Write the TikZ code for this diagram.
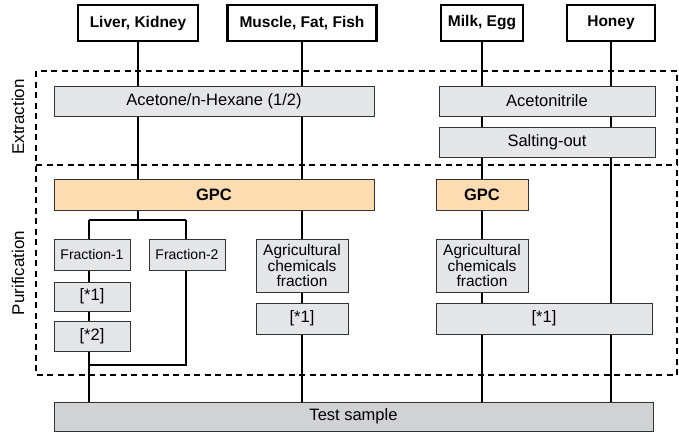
\documentclass[tikz,border=0pt]{standalone}
\usepackage{fontspec}
\setmainfont{Liberation Sans}
\definecolor{boxgray}{HTML}{E5E6E8}
\definecolor{gpcorange}{HTML}{FDDCB2}
\definecolor{testgray}{HTML}{D1D2D4}
\definecolor{edge}{HTML}{333333}
\begin{document}
\begin{tikzpicture}[x=1pt,y=-1pt,
  topbox/.style={draw=black,line width=2.2pt,fill=white,inner sep=0pt,minimum height=36pt,font=\fontsize{15.5}{17}\selectfont\bfseries},
  graybox/.style={draw=edge,line width=1pt,fill=boxgray,inner sep=0pt,font=\fontsize{16.5}{17}\selectfont},
  smallbox/.style={graybox,font=\fontsize{14}{15}\selectfont},
  agribox/.style={graybox,align=center,font=\fontsize{15.5}{15.5}\selectfont},
  gpcbox/.style={draw=edge,line width=1pt,fill=gpcorange,inner sep=0pt,minimum height=31pt,font=\fontsize{16.5}{17}\selectfont\bfseries},
  testbox/.style={draw=edge,line width=1pt,fill=testgray,inner sep=0pt,font=\fontsize{16.5}{17}\selectfont},
  conn/.style={line width=2.3pt,black},
  region/.style={line width=2pt,dash pattern=on 6pt off 4.5pt},
  sidelabel/.style={rotate=90,font=\fontsize{17}{18}\selectfont}]
\useasboundingbox (0,0) rectangle (679,431);
% regions
\coordinate (regTL) at (36,71);
\coordinate (regBR) at (677,375);
\coordinate (sepL) at (36,165);
\coordinate (sepR) at (677,165);
\draw[region] (regTL) rectangle (regBR);
\draw[region] (sepL) -- (sepR);
\node[sidelabel] (extlabel) at (18,117) {Extraction};
\node[sidelabel] (purlabel) at (18,273) {Purification};
% top boxes
\node[topbox,minimum width=120pt] (liver) at (138,23) {Liver, Kidney};
\node[topbox,minimum width=149pt] (muscle) at (302,23) {Muscle, Fat, Fish};
\node[topbox,minimum width=82pt] (milk) at (482,23) {Milk, Egg};
\node[topbox,minimum width=88pt] (honey) at (611,23) {Honey};
% extraction
\node[graybox,minimum width=320pt,minimum height=30pt] (acetone) at (214,101) {Acetone/n-Hexane (1/2)};
\node[graybox,minimum width=216pt,minimum height=30pt] (acn) at (547,101) {Acetonitrile};
\node[graybox,minimum width=216pt,minimum height=30pt] (salt) at (547,142) {Salting-out};
% GPC
\node[gpcbox,minimum width=320pt] (gpcA) at (214,194.5) {GPC};
\node[gpcbox,minimum width=92pt] (gpcB) at (482,194.5) {GPC};
% fractions
\node[smallbox,minimum width=76pt,minimum height=31pt] (frA) at (92,254.5) {Fraction-1};
\node[smallbox,minimum width=76pt,minimum height=31pt] (frB) at (187,254.5) {Fraction-2};
\node[graybox,minimum width=76pt,minimum height=29pt] (cleanA) at (92,296.5) {[*1]};
\node[graybox,minimum width=76pt,minimum height=30pt] (cleanB) at (92,336) {[*2]};
\node[agribox,minimum width=92pt,minimum height=53pt] (agriM) at (302,265.5) {Agricultural\\chemicals\\fraction};
\node[graybox,minimum width=92pt,minimum height=31pt] (cleanM) at (302,318.5) {[*1]};
\node[agribox,minimum width=92pt,minimum height=53pt] (agriR) at (482,265.5) {Agricultural\\chemicals\\fraction};
\node[graybox,minimum width=216pt,minimum height=31pt] (cleanR) at (544,318.5) {[*1]};
% test sample
\node[testbox,minimum width=599pt,minimum height=29pt] (test) at (353.5,416.5) {Test sample};
% branch coordinates
\coordinate (brL) at (89,220);
\coordinate (brR) at (186,220);
\coordinate (mgR) at (186,365);
\coordinate (mgL) at (89,365);
% Liver/Kidney path
\draw[conn] (liver.south) -- (liver.south |- acetone.north);
\draw[conn] (acetone.south -| liver) -- (gpcA.north -| liver);
\draw[conn] (gpcA.south -| liver) -- (brL -| liver);
\draw[conn] (brL) -- (brR);
\draw[conn] (brL) -- (brL |- frA.north);
\draw[conn] (brR) -- (brR |- frB.north);
\draw[conn] (frA.south -| brL) -- (cleanA.north -| brL);
\draw[conn] (cleanA.south -| brL) -- (cleanB.north -| brL);
\draw[conn] (cleanB.south -| brL) -- (test.north -| brL);
\draw[conn] (frB.south -| brR) -- (mgR) -- (mgL);
% Muscle path
\draw[conn] (muscle.south) -- (muscle.south |- acetone.north);
\draw[conn] (acetone.south -| muscle) -- (gpcA.north -| muscle);
\draw[conn] (gpcA.south -| muscle) -- (agriM.north);
\draw[conn] (agriM.south) -- (cleanM.north);
\draw[conn] (cleanM.south) -- (test.north -| cleanM);
% Milk path
\draw[conn] (milk.south) -- (milk.south |- acn.north);
\draw[conn] (acn.south -| milk) -- (salt.north -| milk);
\draw[conn] (salt.south -| milk) -- (gpcB.north);
\draw[conn] (gpcB.south) -- (agriR.north);
\draw[conn] (agriR.south) -- (cleanR.north -| agriR);
\draw[conn] (cleanR.south -| agriR) -- (test.north -| agriR);
% Honey path
\draw[conn] (honey.south) -- (honey.south |- acn.north);
\draw[conn] (acn.south -| honey) -- (salt.north -| honey);
\draw[conn] (salt.south -| honey) -- (cleanR.north -| honey);
\draw[conn] (cleanR.south -| honey) -- (test.north -| honey);
\end{tikzpicture}
\end{document}
